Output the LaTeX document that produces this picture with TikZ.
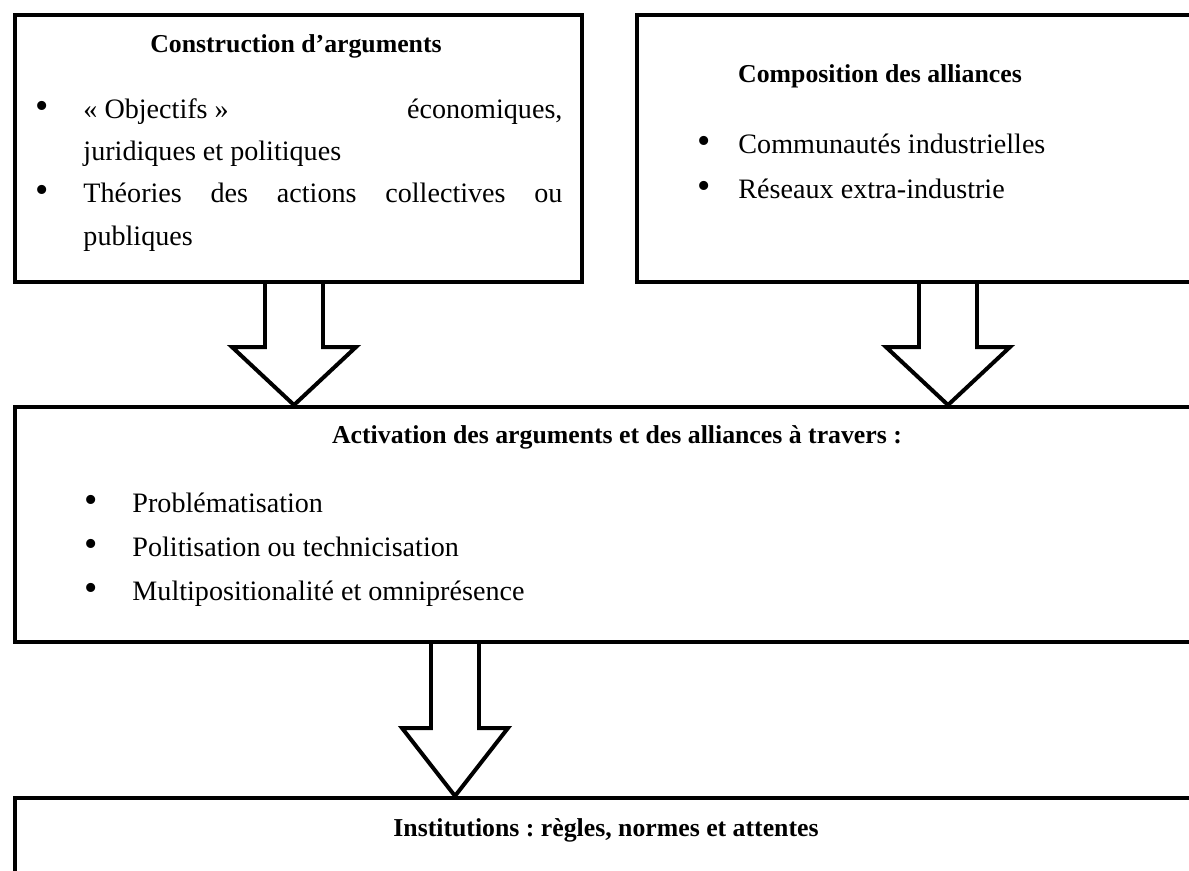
\documentclass[tikz,border=0pt]{standalone}
\usepackage{fontspec}
\setmainfont{Liberation Serif}
\frenchspacing
\usetikzlibrary{positioning, calc}
\newcommand{\bul}[1]{\leavevmode\llap{\scalebox{1.35}{\textbullet}\hspace{#1}}}
\tikzset{
    box/.style={
        rectangle,
        draw,
        line width=1.7pt,
        anchor=north west,
        inner sep=0pt
    },
    heading/.style={
        font=\fontsize{11pt}{13pt}\selectfont\bfseries,
        anchor=base,
        inner sep=0pt
    },
    items/.style={
        anchor=base west,
        inner sep=0pt,
        align=left
    },
    shafthalf/.store in=\fashaft,
    headhalf/.store in=\fahead,
    headlen/.store in=\falen,
    fatarrow/.style={
        line width=1.7pt,
        line join=miter,
        shafthalf=29, headhalf=62, headlen=58,
        to path={($(\tikztostart)+(-\fashaft,0)$)
            -- ($(\tikztotarget)+(-\fashaft,-\falen)$)
            -- ($(\tikztotarget)+(-\fahead,-\falen)$)
            -- (\tikztotarget)
            -- ($(\tikztotarget)+(\fahead,-\falen)$)
            -- ($(\tikztotarget)+(\fashaft,-\falen)$)
            -- ($(\tikztostart)+(\fashaft,0)$)}
    }
}

\begin{document}
\begin{tikzpicture}[x=0.015cm, y=-0.015cm]
    \useasboundingbox (0,0) rectangle (1189,870);
    \clip (0,0) rectangle (1189,870);

    % the four boxes
    \node (args) [box, minimum width=8.505cm, minimum height=4.005cm] at (13,13) {};
    \node (allies) [box, minimum width=9.225cm, minimum height=4.005cm] at (635,13) {};
    \node (activation) [box, minimum width=18.555cm, minimum height=3.525cm] at (13,405) {};
    \node (institutions) [box, minimum width=18.555cm, minimum height=3cm] at (13,796) {};

    % box texts (base of a multi-line list = its last line)
    \node (argstitle) [heading] at (296,52) {Construction d’arguments};
    \node (argslist) [items, text width=7.185cm, align=justify,
        font=\fontsize{12pt}{18.1pt}\selectfont] at (83,118)
        {\bul{15pt}\mbox{« Objectifs »} économiques,\linebreak
         juridiques et politiques\par
         \bul{15pt}Théories des actions collectives ou\linebreak
         publiques};

    \node (alliestitle) [heading] at (880,82) {Composition des alliances};
    \node (allieslist) [items, font=\fontsize{12pt}{19.2pt}\selectfont] at (738,198)
        {\bul{12pt}Communautés industrielles\\
         \bul{12pt}Réseaux extra-industrie};

    \node (activationtitle) [heading] at (617,443)
        {Activation des arguments et des alliances à travers :};
    \node (activationlist) [items, font=\fontsize{12pt}{18.6pt}\selectfont] at (132,600)
        {\bul{15pt}Problématisation\\
         \bul{15pt}Politisation ou technicisation\\
         \bul{15pt}Multipositionalité et omniprésence};

    \node (institutionstitle) [heading] at (606,836)
        {Institutions : règles, normes et attentes};

    % block arrows between the boxes
    \coordinate (argsout) at ($(args.south west)+(281,0)$);
    \coordinate (alliesout) at ($(allies.south west)+(313,0)$);
    \coordinate (activationin1) at (argsout |- activation.north);
    \coordinate (activationin2) at (alliesout |- activation.north);
    \coordinate (activationout) at ($(activation.south west)+(442,0)$);
    \coordinate (institutionsin) at (activationout |- institutions.north);

    \draw [fatarrow] (argsout) to (activationin1);
    \draw [fatarrow] (alliesout) to (activationin2);
    \draw [fatarrow, shafthalf=24, headhalf=53, headlen=68] (activationout) to (institutionsin);

\end{tikzpicture}
\end{document}
